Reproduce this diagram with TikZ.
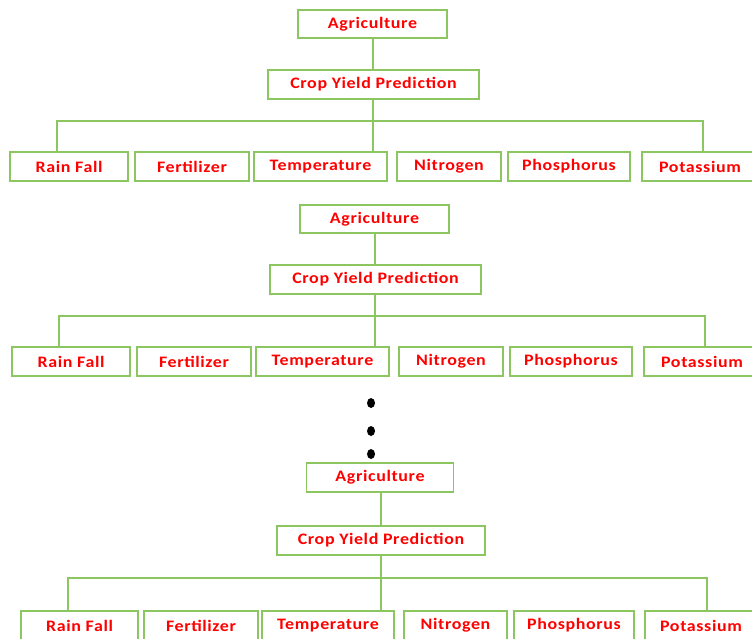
\documentclass[tikz,border=0pt]{standalone}
\usepackage{fontspec}
\setmainfont{Carlito}
\newfontfamily\boxfont[FakeStretch=1.12, LetterSpace=4]{Carlito}
\definecolor{boxgreen}{RGB}{140,198,96}
\definecolor{txtred}{RGB}{255,0,0}
\tikzset{
  bx/.style={draw=boxgreen, line width=1.5pt, inner sep=0pt, text=txtred,
    font=\boxfont\fontsize{16}{18}\selectfont\bfseries, minimum height=29pt},
  ln/.style={draw=boxgreen, line width=1.5pt},
  dotm/.style={fill=black, draw=none, ellipse, minimum width=8pt, minimum height=10pt, inner sep=0pt}
}
\usetikzlibrary{shapes.geometric}
\begin{document}
\begin{tikzpicture}[x=1pt,y=-1pt]
\useasboundingbox (0,0) rectangle (752,638);
% ---------- block 1 ----------
\node[bx, minimum width=149pt, minimum height=28pt] (agr1) at (372.5,24) {Agriculture};
\node[bx, minimum width=211pt] (crop1) at (373.5,84.5) {Crop Yield Prediction};
\node[bx, minimum width=118pt] (rain1) at (69,166.5) {Rain Fall};
\node[bx, minimum width=114pt] (fert1) at (192,166.5) {Fertilizer};
\node[bx, minimum width=133pt] (temp1) at (320.5,166.5) {Temperature};
\node[bx, minimum width=104pt] (nit1) at (449,166.5) {Nitrogen};
\node[bx, minimum width=122pt] (phos1) at (569,166.5) {Phosphorus};
\node[bx, minimum width=124pt] (pot1) at (704,166.5) {\hspace*{-8pt}Potassium};
\coordinate (b1l) at (57,121);
\coordinate (b1r) at (703,121);
\draw[ln] (agr1.south -| 373,0) -- (373,0 |- crop1.north);
\draw[ln] (373,0 |- crop1.south) -- (373,0 |- temp1.north);
\draw[ln] (b1l |- rain1.north) -- (b1l) -- (b1r) -- (b1r |- pot1.north);
% ---------- block 2 ----------
\node[bx, minimum width=149pt, minimum height=28pt] (agr2) at (374.5,219) {Agriculture};
\node[bx, minimum width=211pt] (crop2) at (375.5,279.5) {Crop Yield Prediction};
\node[bx, minimum width=118pt] (rain2) at (71,361.5) {Rain Fall};
\node[bx, minimum width=114pt] (fert2) at (194,361.5) {Fertilizer};
\node[bx, minimum width=133pt] (temp2) at (322.5,361.5) {Temperature};
\node[bx, minimum width=104pt] (nit2) at (451,361.5) {Nitrogen};
\node[bx, minimum width=122pt] (phos2) at (571,361.5) {Phosphorus};
\node[bx, minimum width=124pt] (pot2) at (706,361.5) {\hspace*{-8pt}Potassium};
\coordinate (b2l) at (59,316);
\coordinate (b2r) at (705,316);
\draw[ln] (agr2.south -| 375,0) -- (375,0 |- crop2.north);
\draw[ln] (375,0 |- crop2.south) -- (375,0 |- temp2.north);
\draw[ln] (b2l |- rain2.north) -- (b2l) -- (b2r) -- (b2r |- pot2.north);
% ---------- dots ----------
\node[dotm] (d1) at (371,403) {};
\node[dotm] (d2) at (371,431) {};
\node[dotm] (d3) at (371,454) {};
% ---------- block 3 ----------
\node[bx, minimum width=147pt] (agr3) at (380,477.5) {Agriculture};
\node[bx, minimum width=208pt] (crop3) at (381,540.5) {Crop Yield Prediction};
\node[bx, minimum width=117pt] (rain3) at (79.5,625.5) {Rain Fall};
\node[bx, minimum width=114pt] (fert3) at (201,625.5) {Fertilizer};
\node[bx, minimum width=132pt] (temp3) at (328,625.5) {Temperature};
\node[bx, minimum width=103pt] (nit3) at (455.5,625.5) {Nitrogen};
\node[bx, minimum width=120pt] (phos3) at (574,625.5) {Phosphorus};
\node[bx, minimum width=124pt] (pot3) at (707,625.5) {\hspace*{-12pt}Potassium};
\coordinate (b3l) at (68,578);
\coordinate (b3r) at (707,578);
\draw[ln] (agr3.south -| 381,0) -- (381,0 |- crop3.north);
\draw[ln] (381,0 |- crop3.south) -- (381,0 |- temp3.north);
\draw[ln] (b3l |- rain3.north) -- (b3l) -- (b3r) -- (b3r |- pot3.north);
\end{tikzpicture}
\end{document}
